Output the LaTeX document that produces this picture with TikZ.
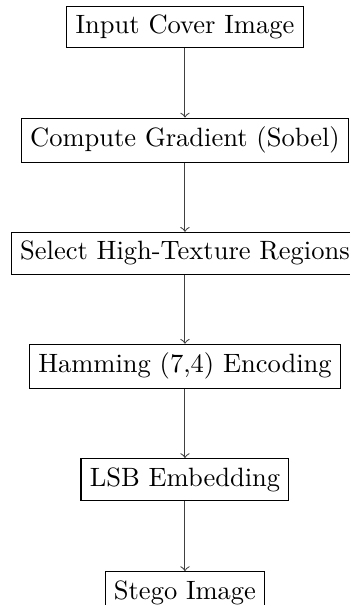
\documentclass[tikz,border=0pt]{standalone}
\usetikzlibrary{positioning}
\begin{document}
\begin{tikzpicture}[
  stepbox/.style={draw, rectangle, fill=white},
  flow/.style={->, draw=black!75}
]
\useasboundingbox (-69.8pt,10.2pt) rectangle (61.9pt,-218.1pt);
\node[stepbox] (n1) at (0,0) {Input Cover Image};
\node[stepbox] (n2) at (0,-1.5) {Compute Gradient (Sobel)};
\node[stepbox] (n3) at (0,-3.0) {Select High-Texture Regions};
\node[stepbox] (n4) at (0,-4.5) {Hamming (7,4) Encoding};
\node[stepbox] (n5) at (0,-6.0) {LSB Embedding};
\node[stepbox] (n6) at (0,-7.5) {Stego Image};
\draw[flow] (n1) -- (n2);
\draw[flow] (n2) -- (n3);
\draw[flow] (n3) -- (n4);
\draw[flow] (n4) -- (n5);
\draw[flow] (n5) -- (n6);
\end{tikzpicture}
\end{document}
